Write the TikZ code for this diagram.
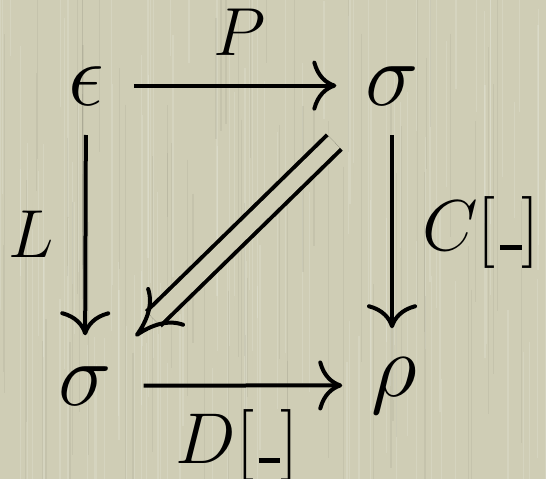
\RequirePackage{fix-cm}
\documentclass[tikz,border=0pt]{standalone}
\usetikzlibrary{arrows.meta}
\definecolor{paper}{RGB}{207,205,181}
\newcommand{\blank}{\mbox{\kern.06em\rule{.3em}{.065em}}}
\tikzset{
  obj/.style={inner sep=0pt, outer sep=0pt, anchor=base, font=\fontsize{90}{90}\selectfont},
  lab/.style={inner sep=0pt, outer sep=0pt, anchor=base, font=\fontsize{68}{68}\selectfont},
  blab/.style={lab, font=\fontsize{72}{72}\selectfont},
  arr/.style={line width=4pt, -{Computer Modern Rightarrow[length=24pt,width=50pt]}},
  dline/.style={line width=4pt, double=paper, double distance=16pt},
  dtip/.style={tips=true, color=black, line width=4pt, -{Computer Modern Rightarrow[length=44pt,width=54pt]}},
  streak/.style={line width=1.2pt}
}
\begin{document}
\begin{tikzpicture}[x=1pt,y=-1pt]
  \fill[paper] (0,0) rectangle (546,479);
  \useasboundingbox (0,0) rectangle (546,479);
  \pgfmathsetseed{7}
  \foreach \i in {1,...,110}{
    \pgfmathsetmacro{\xx}{rnd*546}
    \pgfmathsetmacro{\yy}{rnd*480-100}
    \pgfmathsetmacro{\ll}{100+rnd*300}
    \draw[streak, white, opacity=0.14] (\xx,\yy) -- ++(0,\ll);
  }
  \foreach \i in {1,...,70}{
    \pgfmathsetmacro{\xx}{rnd*546}
    \pgfmathsetmacro{\yy}{rnd*480-100}
    \pgfmathsetmacro{\ll}{100+rnd*300}
    \draw[streak, black!60!paper, opacity=0.08] (\xx,\yy) -- ++(0,\ll);
  }
  \node[obj] (e)  at (86,105)  {$\epsilon$};
  \node[obj] (st) at (392,105) {$\sigma$};
  \node[obj] (sb) at (85,405)  {$\sigma$};
  \node[obj] (r)  at (394,396) {$\rho$};
  \node[lab] (P) at (240,55)  {$P$};
  \node[lab] (L) at (31,257)  {$L$};
  \node[blab] (C) at (481,250) {$C[\blank]$};
  \node[blab] (D) at (237,463) {$D[\blank]$};
  \draw[arr, shorten <=30pt, shorten >=29pt] (e) -- (st);
  \draw[arr, shorten <=30pt, shorten >=31pt] (e) -- (sb);
  \draw[arr, shorten <=30pt, shorten >=29pt] (st) -- (st |- r.north);
  \draw[arr, shorten <=32pt, shorten >=29pt] (sb) -- (r);
  \draw[dline, shorten <=53pt, shorten >=68pt] (st) -- (sb);
  \path[dtip, shorten <=200pt, shorten >=43pt] (st) -- (sb);
\end{tikzpicture}
\end{document}
